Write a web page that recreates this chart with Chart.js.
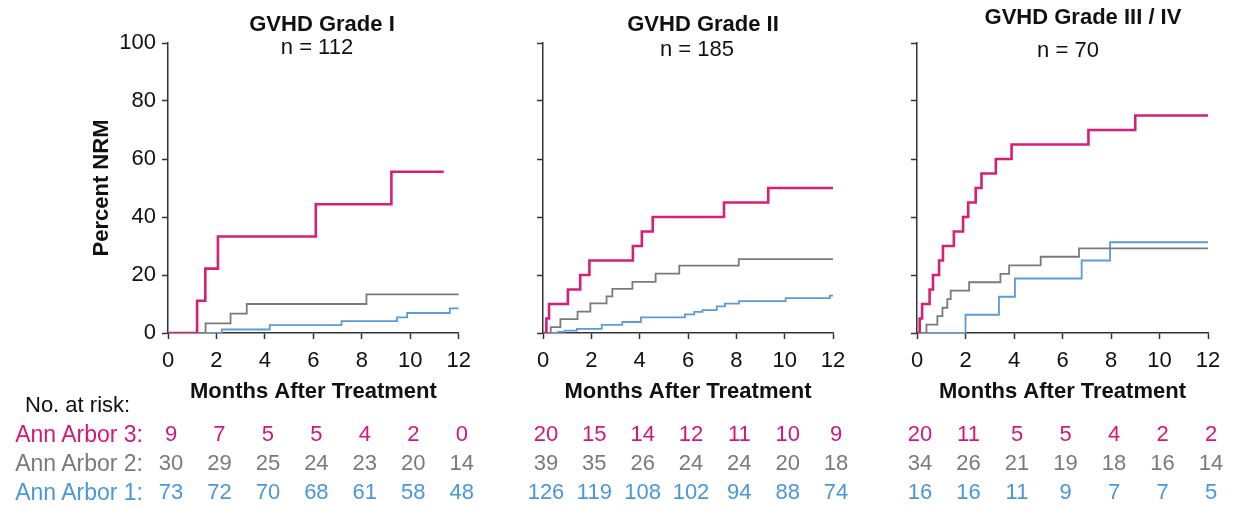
<!DOCTYPE html>
<html>
<head>
<meta charset="utf-8">
<script src="https://cdn.jsdelivr.net/npm/chart.js@4.4.1/dist/chart.umd.min.js"></script>
<style>
  body { margin: 0; background: #fff; font-family: "Liberation Sans", Arial, sans-serif; }
  #wrap { position: relative; width: 1236px; height: 508px; overflow: hidden; }
  canvas { position: absolute; top: 0; }
  .txt { position: absolute; white-space: nowrap; font-size: 22px; line-height: 26px; color: #111; }
  .lbl { font-size: 23px; }
  .ttl { font-weight: bold; transform: translateX(-50%); }
  .sub { transform: translateX(-50%); }
  .num { transform: translateX(-50%); }
</style>
</head>
<body>
<div id="wrap">
  <canvas id="c1" width="480" height="409" style="left:0px"></canvas>
  <canvas id="c2" width="360" height="409" style="left:500px"></canvas>
  <canvas id="c3" width="362" height="409" style="left:874px"></canvas>

  <div class="txt ttl" style="left:322px; top:11px">GVHD Grade I</div>
  <div class="txt sub" style="left:317px; top:34px">n = 112</div>
  <div class="txt ttl" style="left:703px; top:11px">GVHD Grade II</div>
  <div class="txt sub" style="left:697px; top:36px">n = 185</div>
  <div class="txt ttl" style="left:1083px; top:4px">GVHD Grade III / IV</div>
  <div class="txt sub" style="left:1068px; top:37px">n = 70</div>

  <div class="txt" style="left:25px; top:392px">No. at risk:</div>
  <div id="risk"></div>
</div>
<script>
// months where the number at risk is reported
const riskMonths = [0, 2, 4, 6, 8, 10, 12];
const groupLabels = ["Ann Arbor 3:", "Ann Arbor 2:", "Ann Arbor 1:"];

// GVHD Grade I curves (step times in months, cumulative NRM %)
const g1Ann3Months = [0, 1.2, 1.54, 2.06, 6.1, 9.22, 11.38];
const g1Ann3Pct = [0, 11.1, 22.2, 33.3, 44.4, 55.6, 55.6];
const g1Ann2Months = [0, 1.55, 2.58, 3.25, 8.19, 12];
const g1Ann2Pct = [0, 3.3, 6.7, 10.0, 13.3, 13.3];
const g1Ann1Months = [0, 2.22, 4.2, 7.16, 9.45, 9.87, 11.63, 12];
const g1Ann1Pct = [0, 1.2, 2.7, 4.1, 5.4, 6.9, 8.5, 8.5];

// GVHD Grade II curves
const g2Ann3Months = [0, 0.14, 0.25, 1.03, 1.54, 1.92, 3.72, 4.09, 4.54, 7.49, 9.32, 12];
const g2Ann3Pct = [0, 5, 10, 15, 20, 25, 30, 35, 40, 45, 50, 50];
const g2Ann2Months = [0, 0.32, 0.72, 1.43, 1.96, 2.63, 2.87, 3.7, 4.66, 5.64, 8.1, 12];
const g2Ann2Pct = [0, 2.0, 4.8, 7.4, 10.2, 12.6, 15.2, 17.6, 20.5, 23.2, 25.5, 25.5];
const g2Ann1Months = [0, 0.62, 0.9, 1.4, 2.43, 3.28, 4.05, 5.87, 6.26, 6.6, 7.19, 7.53, 8.11, 10.04, 11.87, 12];
const g2Ann1Pct = [0, 0.4, 0.8, 1.4, 2.8, 3.8, 5.4, 6.4, 7.3, 7.9, 9.2, 10.1, 11.0, 12.0, 12.9, 12.9];

// GVHD Grade III / IV curves
const g3Ann3Months = [0, 0.11, 0.21, 0.52, 0.66, 0.91, 1.07, 1.52, 1.9, 2.11, 2.42, 2.66, 3.25, 3.9, 7.07, 9.0, 12];
const g3Ann3Pct = [0, 5, 10, 15, 20, 25, 30, 35, 40, 45, 50, 55, 60, 65, 70, 75, 75];
const g3Ann2Months = [0, 0.39, 0.84, 1.05, 1.25, 1.39, 2.15, 3.44, 3.8, 5.1, 6.68, 12];
const g3Ann2Pct = [0, 2.9, 5.8, 8.7, 11.7, 14.6, 17.5, 20.4, 23.3, 26.3, 29.2, 29.2];
const g3Ann1Months = [0, 2.0, 3.38, 4.04, 6.79, 7.96, 12];
const g3Ann1Pct = [0, 6.3, 12.5, 18.8, 25.0, 31.3, 31.3];

// numbers at risk per panel (rows: Ann Arbor 3, 2, 1)
const g1Risk3 = [9, 7, 5, 5, 4, 2, 0];
const g1Risk2 = [30, 29, 25, 24, 23, 20, 14];
const g1Risk1 = [73, 72, 70, 68, 61, 58, 48];
const g2Risk3 = [20, 15, 14, 12, 11, 10, 9];
const g2Risk2 = [39, 35, 26, 24, 24, 20, 18];
const g2Risk1 = [126, 119, 108, 102, 94, 88, 74];
const g3Risk3 = [20, 11, 5, 5, 4, 2, 2];
const g3Risk2 = [34, 26, 21, 19, 18, 16, 14];
const g3Risk1 = [16, 16, 11, 9, 7, 7, 5];

const lineColors = ["#d61f75", "#7a7a7a", "#5b9bd8"];
const textColors = ["#d4177a", "#7a7a7a", "#4a97d9"];
const lineWidths = [2.6, 1.8, 1.8];
const axisColor = "#333";
const fontFamily = '"Liberation Sans", Arial, sans-serif';

Chart.defaults.font.family = fontFamily;
Chart.defaults.color = "#111";

function makeChart(canvasId, curves, showY, padLeft, padRight, yWidth) {
  const ctx = document.getElementById(canvasId).getContext("2d");
  const datasets = curves.map((c, i) => ({
    data: c[0].map((t, k) => ({ x: t, y: c[1][k] })),
    borderColor: lineColors[i],
    borderWidth: lineWidths[i],
    stepped: "before",
    pointRadius: 0,
    fill: false,
  }));

  return new Chart(ctx, {
    type: "line",
    data: { datasets: datasets },
    options: {
      responsive: false,
      animation: false,
      layout: { padding: { left: padLeft, right: padRight, top: 43, bottom: 0 } },
      plugins: { legend: { display: false }, tooltip: { enabled: false } },
      scales: {
        x: {
          type: "linear",
          min: 0,
          max: 12,
          afterFit: (s) => { s.height = 76; },
          border: { display: true, color: axisColor, width: 1.5 },
          grid: { drawOnChartArea: false, drawTicks: true, tickLength: 6, tickColor: axisColor, tickWidth: 1.5 },
          ticks: { stepSize: 2, maxRotation: 0, autoSkip: false, padding: 9, color: "#111", font: { size: 22 } },
          title: { display: true, text: "Months After Treatment", color: "#111", font: { size: 22, weight: "bold" } },
        },
        y: {
          min: 0,
          max: 100,
          afterFit: (s) => { s.width = yWidth; },
          border: { display: true, color: axisColor, width: 1.5 },
          grid: { drawOnChartArea: false, drawTicks: true, tickLength: 6, tickColor: axisColor, tickWidth: 1.5 },
          ticks: {
            stepSize: 20,
            padding: 6,
            color: "#111",
            font: { size: 22 },
            callback: (v) => (showY ? v : ""),
          },
          title: { display: showY, text: "Percent NRM", color: "#111", font: { size: 22, weight: "bold" } },
        },
      },
    },
  });
}

const chart1 = makeChart("c1", [[g1Ann3Months, g1Ann3Pct], [g1Ann2Months, g1Ann2Pct], [g1Ann1Months, g1Ann1Pct]], true, 85, 21, 83);
const chart2 = makeChart("c2", [[g2Ann3Months, g2Ann3Pct], [g2Ann2Months, g2Ann2Pct], [g2Ann1Months, g2Ann1Pct]], false, 0, 27, 43);
const chart3 = makeChart("c3", [[g3Ann3Months, g3Ann3Pct], [g3Ann2Months, g3Ann2Pct], [g3Ann1Months, g3Ann1Pct]], false, 0, 28, 43);

// number-at-risk table, columns placed on each chart's x scale
const riskBox = document.getElementById("risk");
const rowTops = [421, 450, 479];
const panels = [
  { chart: chart1, left: 0, rows: [g1Risk3, g1Risk2, g1Risk1] },
  { chart: chart2, left: 500, rows: [g2Risk3, g2Risk2, g2Risk1] },
  { chart: chart3, left: 874, rows: [g3Risk3, g3Risk2, g3Risk1] },
];

groupLabels.forEach((label, r) => {
  const d = document.createElement("div");
  d.className = "txt lbl";
  d.style.right = (1236 - 143) + "px";
  d.style.top = rowTops[r] + "px";
  d.style.color = textColors[r];
  d.textContent = label;
  riskBox.appendChild(d);
});

panels.forEach((p) => {
  p.rows.forEach((vals, r) => {
    vals.forEach((v, k) => {
      const d = document.createElement("div");
      d.className = "txt num";
      d.style.left = (p.left + p.chart.scales.x.getPixelForValue(riskMonths[k]) + 3) + "px";
      d.style.top = rowTops[r] + "px";
      d.style.color = textColors[r];
      d.textContent = v;
      riskBox.appendChild(d);
    });
  });
});
</script>
</body>
</html>
